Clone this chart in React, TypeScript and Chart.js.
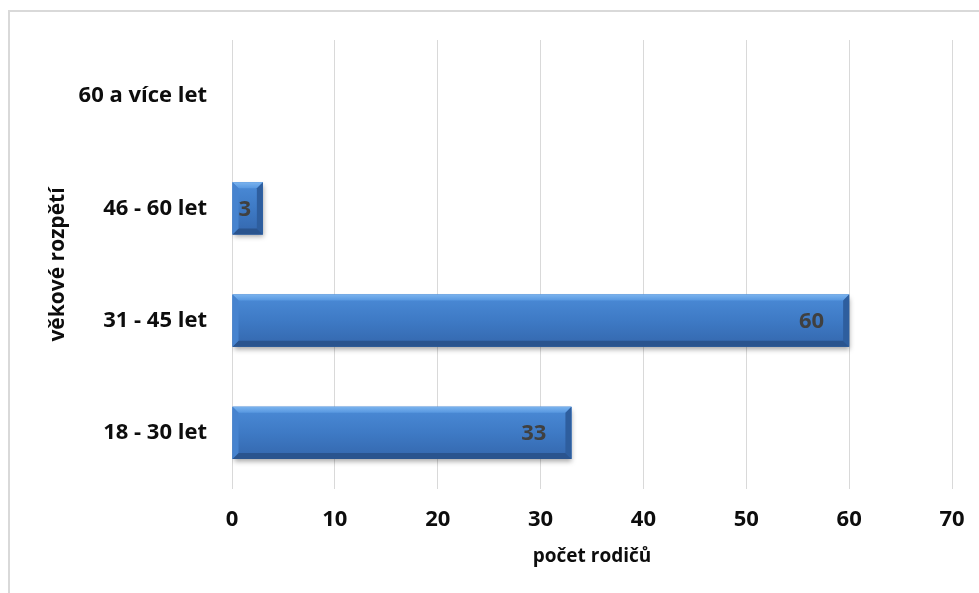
import React, { useEffect, useRef } from "react";
import { Chart, registerables } from "chart.js";

Chart.register(...registerables);

// Age groups from youngest to oldest (drawn bottom to top)
const ageGroups = ["18 - 30 let", "31 - 45 let", "46 - 60 let", "60 a více let"];
const parentCounts = [33, 60, 3, 0];
const xTickValues = [0, 10, 20, 30, 40, 50, 60, 70];
const xAxisTitle = "počet rodičů";
const yAxisTitle = "věkové rozpětí";

const FONT = "'Open Sans', 'Noto Sans', sans-serif";
const TEXT = "#0d0d0d";

// Bevelled, shaded bars with value labels near the bar end
const bevelBars = {
  id: "bevelBars",
  beforeDatasetsDraw(chart: any) {
    const ctx = chart.ctx;
    ctx.save();
    ctx.shadowColor = "rgba(0,0,0,0.35)";
    ctx.shadowBlur = 5;
    ctx.shadowOffsetX = 1;
    ctx.shadowOffsetY = 3;
  },
  afterDatasetsDraw(chart: any) {
    const ctx = chart.ctx;
    ctx.restore();
    const meta = chart.getDatasetMeta(0);
    meta.data.forEach((el: any, i: number) => {
      const v = parentCounts[i];
      if (!v) return;
      const { x, y, base, height } = el.getProps(["x", "y", "base", "height"], true);
      const x0 = Math.min(base, x);
      const x1 = Math.max(base, x);
      const y0 = y - height / 2;
      const y1 = y + height / 2;
      const b = Math.min(6, (x1 - x0) / 2, height / 2);

      ctx.save();
      const body = ctx.createLinearGradient(0, y0, 0, y1);
      body.addColorStop(0, "#4b8bd7");
      body.addColorStop(0.5, "#3e7ac5");
      body.addColorStop(1, "#3467ad");
      ctx.fillStyle = body;
      ctx.fillRect(x0, y0, x1 - x0, y1 - y0);

      const facet = (pts: number[][], fill: any) => {
        ctx.beginPath();
        ctx.moveTo(pts[0][0], pts[0][1]);
        for (let k = 1; k < pts.length; k++) ctx.lineTo(pts[k][0], pts[k][1]);
        ctx.closePath();
        ctx.fillStyle = fill;
        ctx.fill();
      };
      const topFill = ctx.createLinearGradient(0, y0, 0, y0 + b);
      topFill.addColorStop(0, "#7ab3ee");
      topFill.addColorStop(1, "#5797e0");
      facet([[x0, y0], [x1, y0], [x1 - b, y0 + b], [x0 + b, y0 + b]], topFill);
      facet([[x0, y1], [x1, y1], [x1 - b, y1 - b], [x0 + b, y1 - b]], "#2a548e");
      facet([[x0, y0], [x0 + b, y0 + b], [x0 + b, y1 - b], [x0, y1]], "#4683cf");
      facet([[x1, y0], [x1 - b, y0 + b], [x1 - b, y1 - b], [x1, y1]], "#2e5e9e");
      ctx.restore();

      ctx.save();
      ctx.font = `bold 22px ${FONT}`;
      ctx.fillStyle = "#404040";
      ctx.textBaseline = "middle";
      ctx.textAlign = "left";
      const text = String(v);
      const w = ctx.measureText(text).width;
      const lx = Math.max(x0 + 6, x1 - 25 - w);
      ctx.fillText(text, lx, y + 1);
      ctx.restore();
    });
  },
};

export default function App() {
  const canvasRef = useRef<HTMLCanvasElement | null>(null);

  useEffect(() => {
    const canvas = canvasRef.current;
    if (!canvas) return;
    const chart = new Chart(canvas, {
      type: "bar",
      data: {
        labels: ageGroups,
        datasets: [
          {
            data: parentCounts,
            backgroundColor: "#3d78c3",
            borderWidth: 0,
            categoryPercentage: 1,
            barPercentage: 0.465,
          },
        ],
      },
      plugins: [bevelBars],
      options: {
        indexAxis: "y",
        responsive: false,
        animation: false,
        events: [],
        layout: { padding: { top: 28, right: 27, left: 0, bottom: 0 } },
        plugins: {
          legend: { display: false },
          tooltip: { enabled: false },
        },
        scales: {
          x: {
            min: xTickValues[0],
            max: xTickValues[xTickValues.length - 1],
            afterBuildTicks: (scale: any) => {
              scale.ticks = xTickValues.map((value) => ({ value }));
            },
            afterFit: (scale: any) => {
              scale.height = 104;
              scale.paddingLeft = 0;
              scale.paddingRight = 0;
            },
            grid: { color: "#d9d9d9", lineWidth: 1, drawTicks: false },
            border: { display: false },
            ticks: {
              padding: 18,
              color: TEXT,
              font: { family: FONT, size: 22, weight: "bold" },
            },
            title: {
              display: true,
              text: xAxisTitle,
              color: TEXT,
              padding: { top: 0, bottom: 25 },
              font: { family: FONT, size: 19, weight: "bold" },
            },
          },
          y: {
            reverse: true,
            afterFit: (scale: any) => {
              scale.width = 222;
              scale.paddingTop = 0;
              scale.paddingBottom = 0;
            },
            grid: { display: false },
            border: { display: false },
            ticks: {
              padding: 17,
              color: TEXT,
              font: { family: FONT, size: 22, weight: "bold" },
            },
            title: {
              display: true,
              text: yAxisTitle,
              color: TEXT,
              padding: { top: 35, bottom: 0 },
              font: { family: FONT, size: 21, weight: "bold" },
            },
          },
        },
      },
    } as any);
    return () => chart.destroy();
  }, []);

  return (
    <div
      style={{
        position: "fixed",
        left: 8,
        top: 10,
        width: 1000,
        height: 620,
        borderTop: "2px solid #d9d9d9",
        borderLeft: "2px solid #d9d9d9",
        background: "#ffffff",
      }}
    >
      <canvas
        ref={canvasRef}
        width={969}
        height={581}
        style={{ display: "block", width: 969, height: 581 }}
      />
    </div>
  );
}
